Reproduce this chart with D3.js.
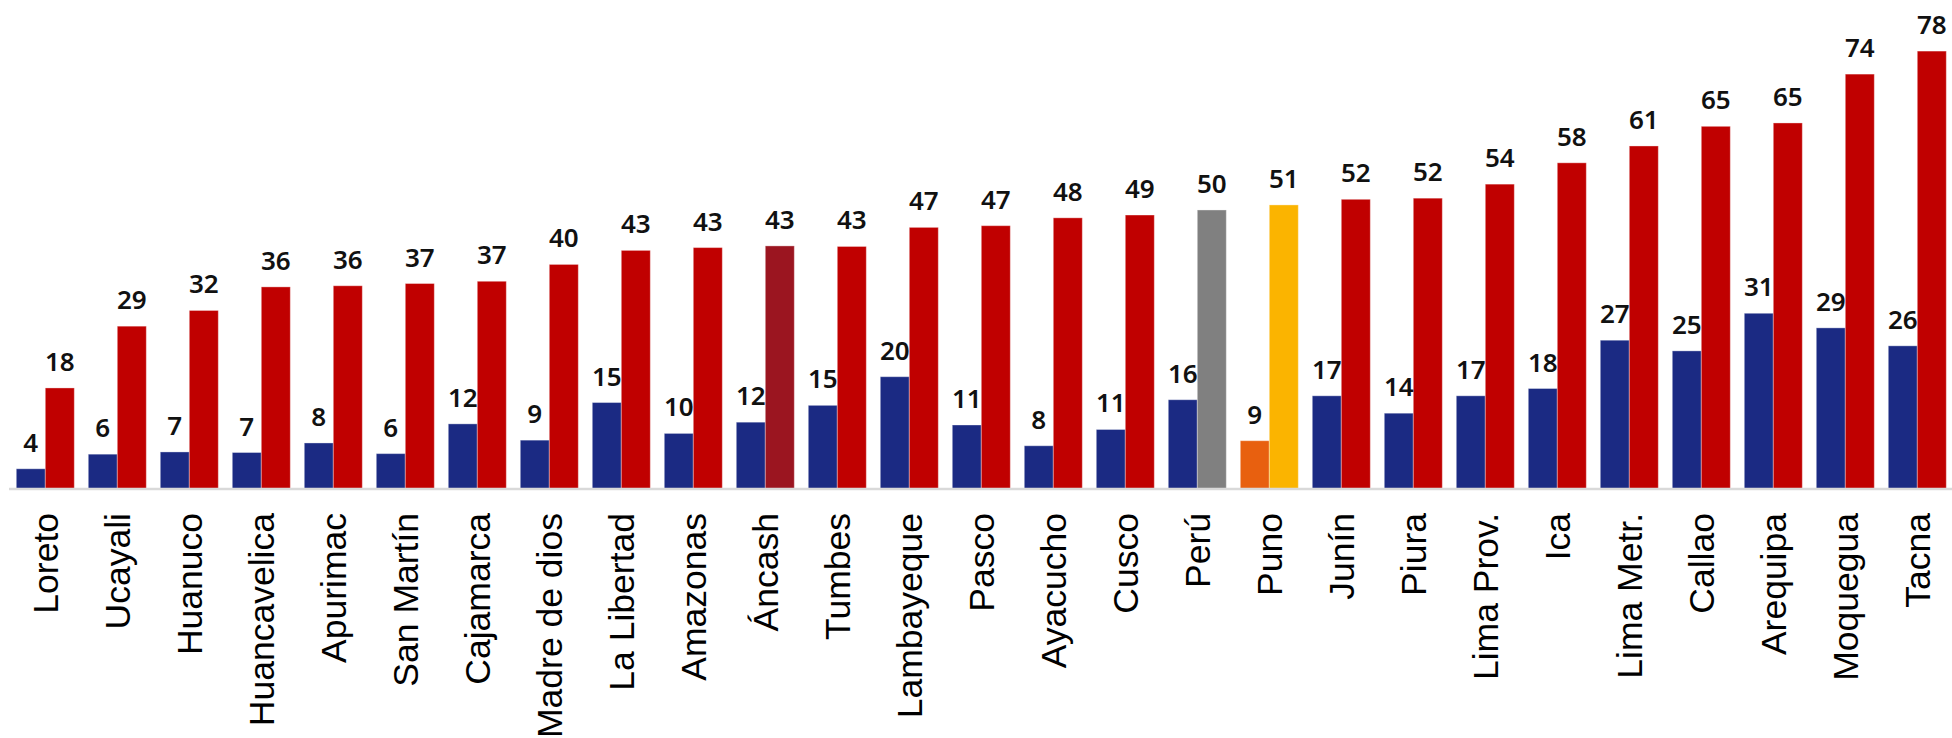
<!DOCTYPE html>
<html>
<head>
<meta charset="utf-8">
<script src="https://cdn.jsdelivr.net/npm/d3@7"></script>
<style>
  html, body { margin: 0; padding: 0; background: #ffffff; }
  svg { display: block; }
</style>
</head>
<body>
<svg id="chart" width="1952" height="738"></svg>
<script>
const categories = ["Loreto","Ucayali","Huanuco","Huancavelica","Apurimac","San Martín","Cajamarca","Madre de dios","La Libertad","Amazonas","Áncash","Tumbes","Lambayeque","Pasco","Ayacucho","Cusco","Perú","Puno","Junín","Piura","Lima Prov.","Ica","Lima Metr.","Callao","Arequipa","Moquegua","Tacna"];
const seriesA = [3.6,6.2,6.6,6.5,8.2,6.3,11.6,8.7,15.4,9.9,11.9,14.9,20.0,11.4,7.7,10.6,15.9,8.6,16.6,13.5,16.6,17.9,26.5,24.6,31.3,28.7,25.5];
const seriesB = [18.0,29.0,31.8,36.0,36.2,36.6,37.0,40.0,42.5,43.0,43.3,43.2,46.6,46.9,48.3,48.8,49.7,50.6,51.6,51.8,54.3,58.1,61.1,64.6,65.2,73.9,78.0];
const colorA = "#1b2a83";
const colorB = "#c00000";
const highlightA = {"Puno": "#e8600f"};
const highlightB = {"Áncash": "#9b1520", "Perú": "#808080", "Puno": "#fbb400"};

const svg = d3.select("#chart");
const x = d3.scaleBand().domain(categories).range([9.3, 1953.3]).paddingInner(14/72).paddingOuter(7/72);
const xs = d3.scaleBand().domain(["A","B"]).range([0, x.bandwidth()]);
const y = d3.scaleLinear().domain([0, 87.1]).range([489, 0]);

const rows = categories.map((c, i) => ({c, a: seriesA[i], b: seriesB[i]}));

const g = svg.append("g");
const groups = g.selectAll("g.grp").data(rows).join("g")
  .attr("class", "grp")
  .attr("transform", d => `translate(${x(d.c)},0)`);

groups.append("rect")
  .attr("x", xs("A")).attr("width", xs.bandwidth())
  .attr("y", d => y(d.a)).attr("height", d => y(0) - y(d.a))
  .attr("fill", d => highlightA[d.c] || colorA)
  .attr("stroke", "#ffffff").attr("stroke-opacity", 0.35).attr("stroke-width", 1);

groups.append("rect")
  .attr("x", xs("B")).attr("width", xs.bandwidth())
  .attr("y", d => y(d.b)).attr("height", d => y(0) - y(d.b))
  .attr("fill", d => highlightB[d.c] || colorB)
  .attr("stroke", "#ffffff").attr("stroke-opacity", 0.35).attr("stroke-width", 1);

const labelFont = "'Noto Sans', 'Open Sans', sans-serif";
groups.append("text")
  .attr("x", xs("A") + xs.bandwidth() / 2)
  .attr("y", d => y(d.a) - 17)
  .attr("text-anchor", "middle")
  .attr("font-family", labelFont).attr("font-weight", 600).attr("font-size", 26)
  .attr("fill", "#111")
  .text(d => Math.round(d.a));

groups.append("text")
  .attr("x", xs("B") + xs.bandwidth() / 2)
  .attr("y", d => y(d.b) - 17)
  .attr("text-anchor", "middle")
  .attr("font-family", labelFont).attr("font-weight", 600).attr("font-size", 26)
  .attr("fill", "#111")
  .text(d => Math.round(d.b));

// axis
const axis = svg.append("g").attr("transform", `translate(0,${y(0)})`)
  .call(d3.axisBottom(x).tickSize(0).tickPadding(0));
axis.select(".domain").attr("stroke", "#d9d9d9").attr("stroke-width", 2.5)
  .attr("d", `M9,0H1952`);
axis.selectAll(".tick text")
  .attr("font-family", "'Liberation Sans', Arial, sans-serif")
  .attr("font-size", 35.5)
  .attr("fill", "#000")
  .attr("text-anchor", "end")
  .attr("transform", "rotate(-90)")
  .attr("x", -24)
  .attr("y", 0)
  .attr("dy", "0.36em");
</script>
</body>
</html>
